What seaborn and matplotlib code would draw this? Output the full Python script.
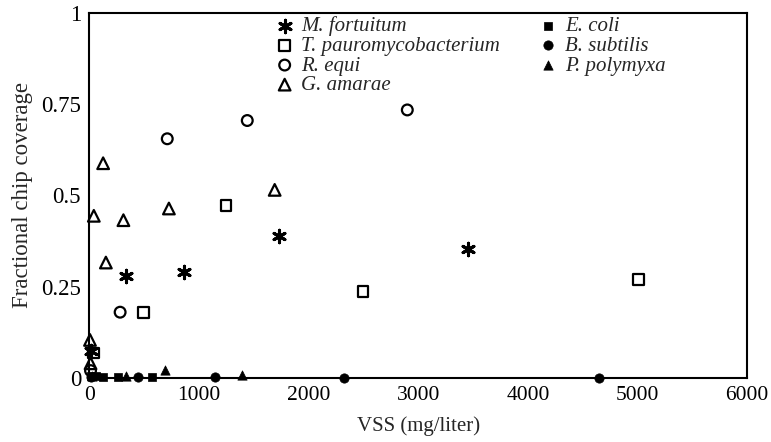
import matplotlib
matplotlib.use("Agg")
import matplotlib.pyplot as plt
import seaborn as sns

# values
fortuitum_x = [15, 330, 860, 1725, 3455]
fortuitum_y = [0.075, 0.28, 0.29, 0.39, 0.352]

pauro_x = [35, 490, 1245, 2495, 5010]
pauro_y = [0.068, 0.18, 0.472, 0.236, 0.27]

equi_x = [10, 280, 710, 1440, 2900]
equi_y = [0.02, 0.18, 0.655, 0.705, 0.734]

amarae_x = [5, 10, 40, 125, 150, 310, 725, 1690]
amarae_y = [0.104, 0.04, 0.444, 0.588, 0.316, 0.432, 0.464, 0.515]

ecoli_x = [10, 60, 125, 265, 575]
ecoli_y = [0.005, 0.004, 0.003, 0.002, 0.003]

subtilis_x = [15, 445, 1145, 2320, 4645]
subtilis_y = [0.003, 0.002, 0.002, 0.0, 0.0]

polymyxa_x = [20, 335, 690, 1395]
polymyxa_y = [0.006, 0.004, 0.022, 0.008]

x_ticks = [0, 1000, 2000, 3000, 4000, 5000, 6000]
y_ticks = [0, 0.25, 0.5, 0.75, 1]
y_ticklabels = ["0", "0.25", "0.5", "0.75", "1"]

sns.set_style("white")
plt.rcParams['font.family'] = ['Liberation Serif', 'DejaVu Serif']
plt.rcParams['font.size'] = 15

fig = plt.figure(figsize=(7.71, 4.42), dpi=100)
ax = fig.add_axes([0.116, 0.145, 0.853, 0.826])

open_kw = dict(facecolor='none', edgecolor='black', linewidth=1.6, clip_on=False, zorder=3)
fill_kw = dict(color='black', edgecolor='black', linewidth=0.5, clip_on=False, zorder=3)

sns.scatterplot(x=fortuitum_x, y=fortuitum_y, marker=(6, 2, 0), s=80, color='black',
                linewidth=2.2, label='M. fortuitum', ax=ax, clip_on=False, zorder=3)
sns.scatterplot(x=pauro_x, y=pauro_y, marker='s', s=60, label='T. pauromycobacterium', ax=ax, **open_kw)
sns.scatterplot(x=equi_x, y=equi_y, marker='o', s=60, label='R. equi', ax=ax, **open_kw)
sns.scatterplot(x=amarae_x, y=amarae_y, marker='^', s=70, label='G. amarae', ax=ax, **open_kw)
sns.scatterplot(x=ecoli_x, y=ecoli_y, marker='s', s=40, label='E. coli', ax=ax, **fill_kw)
sns.scatterplot(x=subtilis_x, y=subtilis_y, marker='o', s=45, label='B. subtilis', ax=ax, **fill_kw)
sns.scatterplot(x=polymyxa_x, y=polymyxa_y, marker='^', s=45, label='P. polymyxa', ax=ax, **fill_kw)

ax.set_xlim(0, 6000)
ax.set_ylim(0, 1)
ax.set_xticks(x_ticks)
ax.set_yticks(y_ticks)
ax.set_yticklabels(y_ticklabels)
ax.tick_params(axis='x', direction='in', length=5, width=1, colors='black', labelsize=15.5, pad=6)
ax.tick_params(axis='y', direction='out', length=4, width=1, colors='black', labelsize=16.5, pad=2)
ax.set_xlabel('VSS (mg/liter)', fontsize=15, labelpad=8)
ax.set_ylabel('Fractional chip coverage', fontsize=16.5, labelpad=6)

for side in ['left', 'right', 'top', 'bottom']:
    ax.spines[side].set_color('black')
    ax.spines[side].set_linewidth(1.5)
    ax.spines[side].set_visible(True)

leg = ax.legend(loc='upper left', bbox_to_anchor=(0.262, 1.03), ncol=2, frameon=False,
                prop={'family': 'Liberation Serif', 'style': 'italic', 'size': 15},
                labelspacing=0.0, handlelength=0.8, handletextpad=0.4, columnspacing=1.9,
                borderpad=0.2)

fig.savefig('out.png', dpi=100)
